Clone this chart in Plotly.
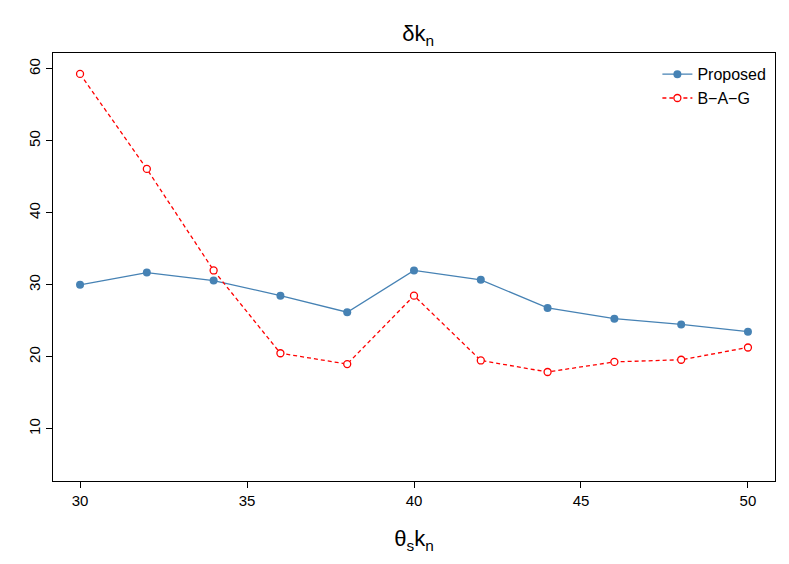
import plotly.graph_objects as go

x = [30, 32, 34, 36, 38, 40, 42, 44, 46, 48, 50]
proposed = [30.0, 31.7, 30.6, 28.5, 26.2, 32.0, 30.7, 26.8, 25.3, 24.5, 23.5]
bag = [59.3, 46.1, 32.0, 20.5, 19.0, 28.5, 19.5, 17.9, 19.3, 19.6, 21.3]
xticks = [30, 35, 40, 45, 50]
yticks = [10, 20, 30, 40, 50, 60]

fig = go.Figure()
fig.add_trace(go.Scatter(x=x, y=proposed, mode="lines+markers", name="Proposed",
    line=dict(color="steelblue", width=1.3), marker=dict(color="steelblue", size=8)))
fig.add_trace(go.Scatter(x=x, y=bag, mode="lines+markers", name="B\u2212A\u2212G",
    line=dict(color="red", width=1.3, dash="4px,3px"),
    marker=dict(color="white", size=7, symbol="circle", line=dict(color="red", width=1.3))))

ax = dict(showgrid=False, zeroline=False, showline=True, mirror=True, linecolor="black",
          linewidth=1, ticks="outside", ticklen=6, tickcolor="black", automargin=False,
          tickfont=dict(size=15, color="black"))
fig.update_layout(
    width=789, height=564, plot_bgcolor="white", paper_bgcolor="white",
    font=dict(family="Liberation Sans, Arial", color="black"),
    margin=dict(l=45, r=22, t=45, b=91),
    title=dict(text="\u03b4k<sub>n</sub>", x=0.52, xanchor="center", y=0.955, yanchor="middle",
               font=dict(size=22)),
    xaxis=dict(ax, range=[29.19, 50.81], tickvals=xticks,
               title=dict(text="\u03b8<sub>s</sub>k<sub>n</sub>", font=dict(size=22), standoff=22)),
    yaxis=dict(ax, range=[2.76, 62.2], tickvals=yticks, tickangle=-90),
    legend=dict(x=0.995, y=0.99, xanchor="right", yanchor="top", bgcolor="rgba(0,0,0,0)",
                font=dict(size=16)),
)
fig.write_html("out.html")
